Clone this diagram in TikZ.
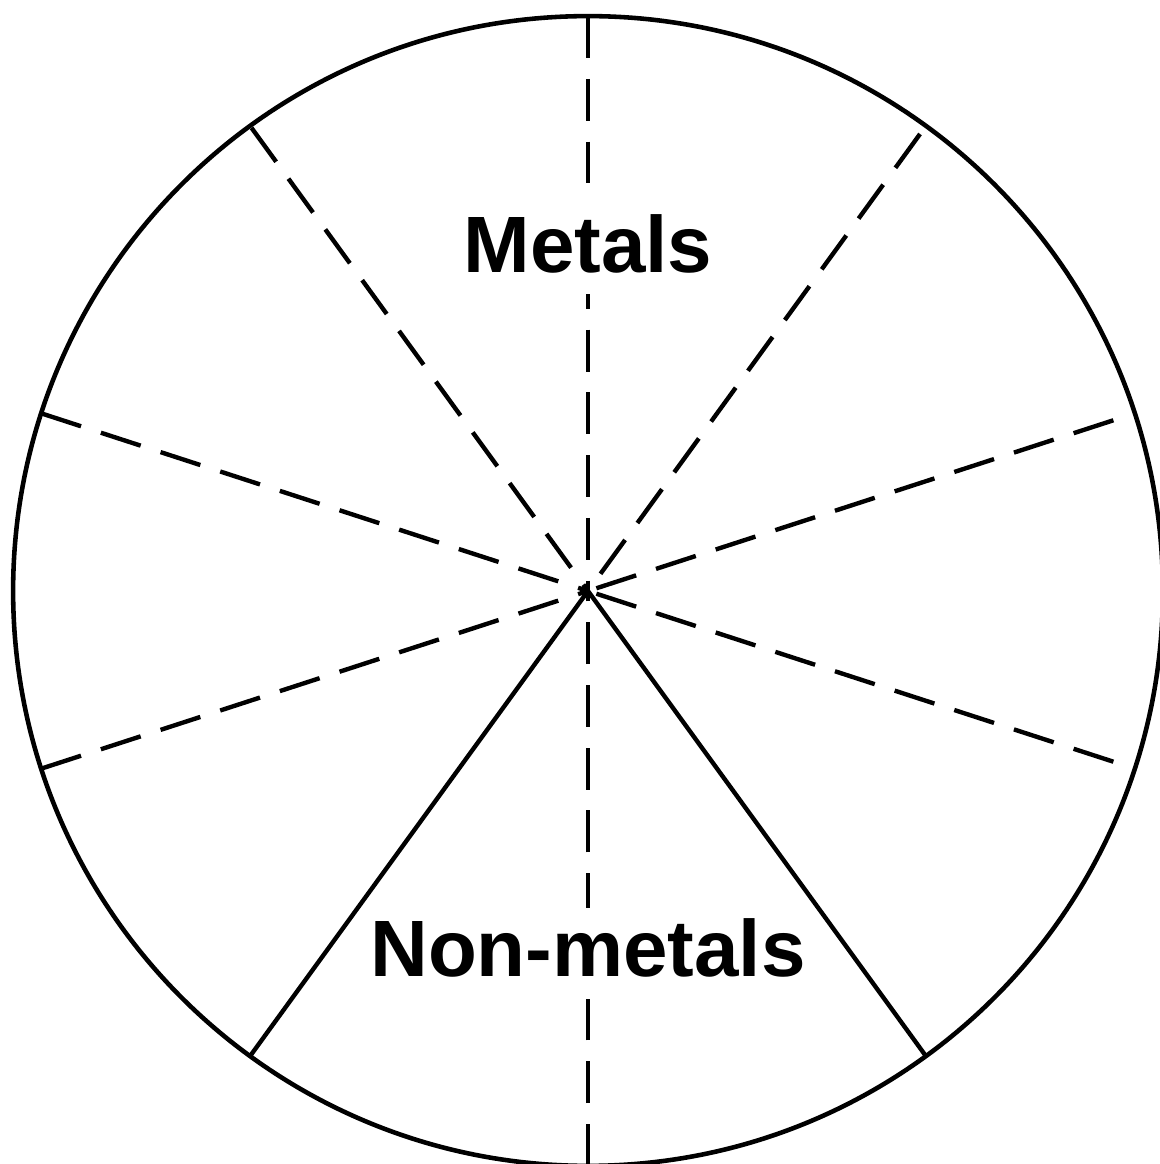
\documentclass[tikz,border=0pt]{standalone}
\usepackage{fontspec}
\setmainfont{Liberation Sans}
\usetikzlibrary{calc}
\tikzset{
  rim/.style={line width=2.6pt},
  spoke/.style={line width=2.5pt, dash pattern=on 23.8pt off 11.9pt},
  wall/.style={line width=2.5pt},
  tag/.style={fill=white, inner sep=0pt, anchor=base,
    font=\bfseries\fontsize{45.5}{52}\selectfont, text height=39.5pt, text depth=12pt}
}
\begin{document}
\begin{tikzpicture}[x=0.02cm,y=0.02cm]
\useasboundingbox (0,0) rectangle (1160,1164);
\fill[white] (0,0) rectangle (1160,1164);
\coordinate (O) at (588,573);
\draw[rim] (O) circle[radius=11.5cm];
% rim end points of the spokes
\coordinate (p90)  at ($(O)+(90:11.5cm)$);
\coordinate (p54)  at ($(O)+(54:11.3cm)$);
\coordinate (p126) at ($(O)+(126:11.45cm)$);
\coordinate (p18)  at ($(O)+(18:11.05cm)$);
\coordinate (p162) at ($(O)+(162:11.5cm)$);
\coordinate (p198) at ($(O)+(198:11.5cm)$);
\coordinate (p342) at ($(O)+(342:11.05cm)$);
\coordinate (p270) at ($(O)+(270:11.5cm)$);
\coordinate (p234) at ($(O)+(234:11.5cm)$);
\coordinate (p306) at ($(O)+(306:11.5cm)$);
\foreach \a in {90,54,126,18,162,198,342,270}
  \draw[spoke] (p\a) -- (O);
\draw[wall] (p234) -- (O) -- (p306);
\node[tag] (metals) at (588,891) {Metals};
\node[tag] (nonmetals) at (588,187) {Non-metals};
\end{tikzpicture}
\end{document}
